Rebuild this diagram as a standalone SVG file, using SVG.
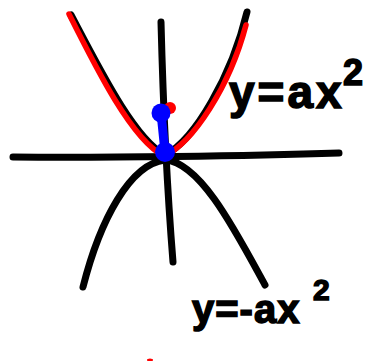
<svg xmlns="http://www.w3.org/2000/svg" width="386" height="361" viewBox="0 0 386 361">
<style>
.k{fill:none;stroke:#000;stroke-width:7;stroke-linecap:round;stroke-linejoin:round}
.r{fill:none;stroke:#f00;stroke-width:5.5;stroke-linecap:round;stroke-linejoin:round}
.t{font-family:"Liberation Sans","DejaVu Sans",sans-serif;font-weight:bold;fill:#000;stroke:#000;stroke-width:1.5}
</style>
<rect width="386" height="361" fill="#fff"/>
<g id="connectors">
<path id="x-axis" class="k" d="M13,157 C100,158 250,156 339,153"/>
<path id="y-axis" class="k" d="M161,22 C163,100 168,200 173,262"/>
<path id="down-parabola" class="k" d="M83,287 C100,220 130,164 165,160 C200,162 235,230 265,285"/>
<path id="up-parabola-black" class="k" d="M71,15 C100,70 135,140 165,155 C195,140 232,75 247,12"/>
<path id="up-parabola-red" class="r" d="M69,14 C97,70 132,140 164,156 C193,143 230,86 246,25"/>
</g>
<g id="segment">
<circle cx="170" cy="108" r="6" fill="#f00"/>
<line x1="161" y1="113" x2="165" y2="152" stroke="#0000ff" stroke-width="9" stroke-linecap="round"/>
<circle cx="161" cy="113" r="9.5" fill="#0000ff"/>
<circle cx="165" cy="152" r="10" fill="#0000ff"/>
</g>
<g id="label-up">
<text class="t" x="229" y="108" font-size="46" letter-spacing="3">y=ax</text>
<text class="t" x="343" y="85" font-size="36">2</text>
</g>
<g id="label-down">
<text class="t" x="192" y="323" font-size="40" letter-spacing="1">y=-ax</text>
<text class="t" x="313" y="300" font-size="30">2</text>
</g>
<ellipse cx="150" cy="360" rx="3" ry="1.5" fill="#f00"/>
</svg>
